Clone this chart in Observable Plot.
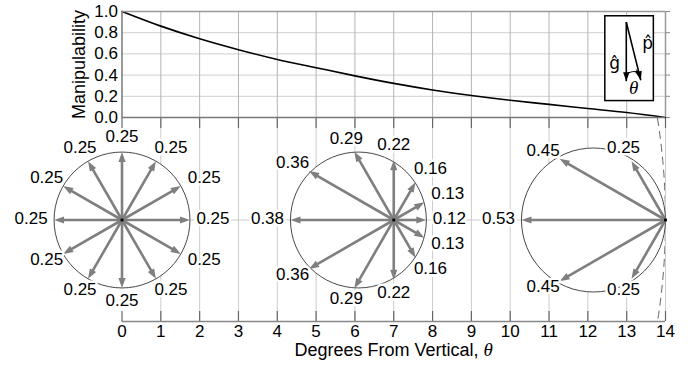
<!DOCTYPE html>
<html><head><meta charset="utf-8">
<script src="https://cdn.jsdelivr.net/npm/d3@7"></script>
<script src="https://cdn.jsdelivr.net/npm/@observablehq/plot@0.6"></script>
<style>
body{margin:0;background:#fff;}
#chart{width:700px;}
#chart svg{display:block;}
</style></head><body><div id="chart"></div>
<script>
// ---------- data ----------
const degreeTicks = [0,1,2,3,4,5,6,7,8,9,10,11,12,13,14];
const manipTicks = [0,0.2,0.4,0.6,0.8,1.0];
const curveTheta = [0,1,2,3,4,5,6,7,8,9,10,11,12,13,14];
const curveManip = [1.0,0.862,0.743,0.640,0.548,0.470,0.393,0.322,0.260,0.207,0.162,0.124,0.085,0.047,0.0];
const ellipseTheta = [0,7,14];
const arrowAngles = [0,30,60,90,120,150,180,210,240,270,300,330];
const valuesAt0  = [0.25,0.25,0.25,0.25,0.25,0.25,0.25,0.25,0.25,0.25,0.25,0.25];
const valuesAt7  = [0.12,0.13,0.16,0.22,0.29,0.36,0.38,0.36,0.29,0.22,0.16,0.13];
const valuesAt14 = [0,0,0,0,0.25,0.45,0.53,0.45,0.25,0,0,0];
const limitRadius = 2.39;      // dashed limiting circle (manipulability units)
const insetAngle = 14;         // degrees shown in the inset sketch
const xTitle = "Degrees From Vertical, θ";
const yTitle = "Manipulability";

// ---------- layout ----------
const FONT = "'Liberation Sans', Arial, sans-serif";
const W = 700, ML = 121.5, MR = 35;
const topH = 118, topMT = 11, topMB = 1;
const botH = 249, botMB = 46;
const pxPerDeg = (W - ML - MR) / 14;
const pxPerY = topH - topMT - topMB;
const unitDeg = 7; // degrees of x per manipulability unit in lower panel
const rad = a => a * Math.PI / 180;
const NUM = 17, TITLE = 18;

// filled arrowhead symbol: tip at the anchor, pointing up before rotation
const head = (len, half) => ({draw(ctx) { ctx.moveTo(0, 0); ctx.lineTo(half, len); ctx.lineTo(-half, len); ctx.closePath(); }});

// ---------- top panel ----------
const curve = curveTheta.map((t, i) => ({t, m: curveManip[i]}));
const insetBox = [{x1: 12.45, x2: 13.70, y1: 0.155, y2: 0.955}];
const ix = 12.99, iy = 0.90, iL = 60;
const insetArrows = [
  {x1: ix, y1: iy, x2: ix, y2: iy - iL * 0.985 / pxPerY, rot: 180},
  {x1: ix, y1: iy, x2: ix + iL * Math.sin(rad(insetAngle)) / pxPerDeg, y2: iy - iL * Math.cos(rad(insetAngle)) / pxPerY, rot: 180 - insetAngle}
];

const topPlot = Plot.plot({
  width: W, height: topH, marginTop: topMT, marginBottom: topMB, marginLeft: ML, marginRight: MR,
  x: {domain: [0, 14], axis: null},
  y: {domain: [0, 1], axis: null},
  r: {type: "identity"},
  style: {fontFamily: FONT, fontSize: NUM + "px", background: "white", color: "black", overflow: "visible"},
  marks: [
    Plot.gridY(manipTicks.slice(1, -1), {stroke: "#cfcfcf", strokeOpacity: 1}),
    Plot.gridX(degreeTicks.slice(1, -1), {stroke: "#b4b4b4", strokeOpacity: 1}),
    Plot.line(curve, {x: "t", y: "m", stroke: "black", strokeWidth: 1.6, curve: "monotone-x"}),
    Plot.rect(insetBox, {x1: "x1", x2: "x2", y1: "y1", y2: "y2", fill: "white", stroke: "black", strokeWidth: 1.5}),
    Plot.link(insetArrows, {x1: "x1", y1: "y1", x2: "x2", y2: "y2", stroke: "black", strokeWidth: 1.6}),
    Plot.dot(insetArrows, {x: "x2", y: "y2", r: 4, symbol: head(9, 3.2), rotate: "rot", fill: "black", stroke: "none"}),
    Plot.arrow([{x1: ix, y1: 0.415, x2: 13.30, y2: 0.435}], {x1: "x1", y1: "y1", x2: "x2", y2: "y2", stroke: "black", strokeWidth: 1, headLength: 4, bend: 15}),
    Plot.text(["ĝ"], {x: 12.69, y: 0.51, fontSize: 17, fontFamily: "'DejaVu Sans', sans-serif"}),
    Plot.text(["p̂"], {x: 13.54, y: 0.70, fontSize: 17, fontFamily: "'DejaVu Sans', sans-serif"}),
    Plot.text(["θ"], {x: 13.18, y: 0.28, fontSize: 19, fontStyle: "italic", fontFamily: "'Liberation Serif', serif"}),
    Plot.ruleY([1], {stroke: "#999", strokeWidth: 1.5}),
    Plot.ruleX([14], {stroke: "#999", strokeWidth: 1.5}),
    Plot.axisY(manipTicks, {anchor: "right", tickSize: 4, tickFormat: () => "", stroke: "#888", label: null}),
    Plot.axisY(manipTicks, {anchor: "left", tickSize: 0, tickPadding: 4, tickFormat: d3.format(".1f"), fontSize: NUM, label: null}),
    Plot.text([yTitle], {frameAnchor: "left", textAnchor: "middle", rotate: -90, dx: -43, fontSize: TITLE}),
    Plot.ruleX([0], {stroke: "#777", strokeWidth: 1.5}),
    Plot.ruleY([0], {stroke: "#777", strokeWidth: 1.5})
  ]
});

// ---------- bottom panel ----------
const innerH = botH - botMB;
const halfH = innerH / 2 / pxPerDeg;
const series = [valuesAt0, valuesAt7, valuesAt14];
const arrows = [];
const circles = [];
ellipseTheta.forEach((t, k) => {
  const vals = series[k];
  vals.forEach((v, j) => {
    if (v > 0) {
      const a = rad(arrowAngles[j]);
      const c = Math.cos(a), s = Math.sin(a);
      const x2 = t + v * unitDeg * c, y2 = v * unitDeg * s;
      arrows.push({t, v, x2, y2,
        xs: x2 - 6 * c / pxPerDeg, ys: y2 - 6 * s / pxPerDeg,
        rot: 90 - arrowAngles[j],
        lx: x2 + (23 * c + 4 * Math.abs(Math.sin(2 * a))) / pxPerDeg,
        ly: y2 + (14 * s + 1.5) / pxPerDeg,
        label: v.toFixed(2)});
    }
  });
  const v0 = vals[arrowAngles.indexOf(0)], v180 = vals[arrowAngles.indexOf(180)];
  circles.push({cx: t + (v0 - v180) / 2 * unitDeg, r: (v0 + v180) / 2 * unitDeg * pxPerDeg});
});
const origins = ellipseTheta.map(t => ({t}));
const limit = [{cx: 14 - limitRadius * unitDeg, r: limitRadius * unitDeg * pxPerDeg}];

const botPlot = Plot.plot({
  width: W, height: botH, marginTop: 0, marginBottom: botMB, marginLeft: ML, marginRight: MR,
  x: {domain: [0, 14], axis: null},
  y: {domain: [-halfH, halfH], axis: null},
  r: {type: "identity"},
  style: {fontFamily: FONT, fontSize: NUM + "px", background: "transparent", color: "black"},
  marks: [
    Plot.gridX(degreeTicks.slice(1), {stroke: "#cccccc", strokeOpacity: 1}),
    Plot.ruleY([0], {stroke: "#cccccc"}),
    Plot.dot(circles, {x: "cx", y: 0, r: "r", fill: "white", stroke: "#333", strokeWidth: 0.9}),
    Plot.dot(limit, {x: "cx", y: 0, r: "r", fill: "none", stroke: "#666", strokeWidth: 1, strokeDasharray: "8,5", clip: true}),
    Plot.link(arrows, {x1: "t", y1: 0, x2: "xs", y2: "ys", stroke: "#7f7f7f", strokeWidth: 2.6}),
    Plot.dot(arrows, {x: "x2", y: "y2", r: 5, symbol: head(10, 3.6), rotate: "rot", fill: "#7f7f7f", stroke: "none"}),
    Plot.dot(origins, {x: "t", y: 0, r: 1.6, fill: "black", symbol: "square"}),
    Plot.text(arrows, {x: "lx", y: "ly", text: "label", fontSize: NUM, fill: "black", stroke: "white", strokeWidth: 5}),
    Plot.tickX(degreeTicks, {x: d => d, insetBottom: innerH - 10, stroke: "#666", strokeWidth: 1.2}),
    Plot.tickX(degreeTicks, {x: d => d, insetTop: innerH - 10, stroke: "#666", strokeWidth: 1.2}),
    Plot.ruleY([-halfH], {stroke: "#888", strokeWidth: 1.5}),
    Plot.axisX(degreeTicks, {anchor: "bottom", tickSize: 0, tickPadding: 3, fontSize: NUM, label: null}),
    Plot.text([xTitle], {x: 7, y: -halfH, lineAnchor: "top", dy: 22, fontSize: TITLE})
  ]
});

// italic theta in the axis title
botPlot.querySelectorAll("text").forEach(t => {
  if (t.textContent === xTitle) {
    t.textContent = xTitle.slice(0, -1);
    const ts = document.createElementNS("http://www.w3.org/2000/svg", "tspan");
    ts.setAttribute("font-style", "italic");
    ts.setAttribute("font-family", "'Liberation Serif', serif");
    ts.setAttribute("font-size", "19");
    ts.textContent = "θ";
    t.appendChild(ts);
  }
});

const host = document.getElementById("chart");
host.appendChild(topPlot);
host.appendChild(botPlot);
</script></body></html>
